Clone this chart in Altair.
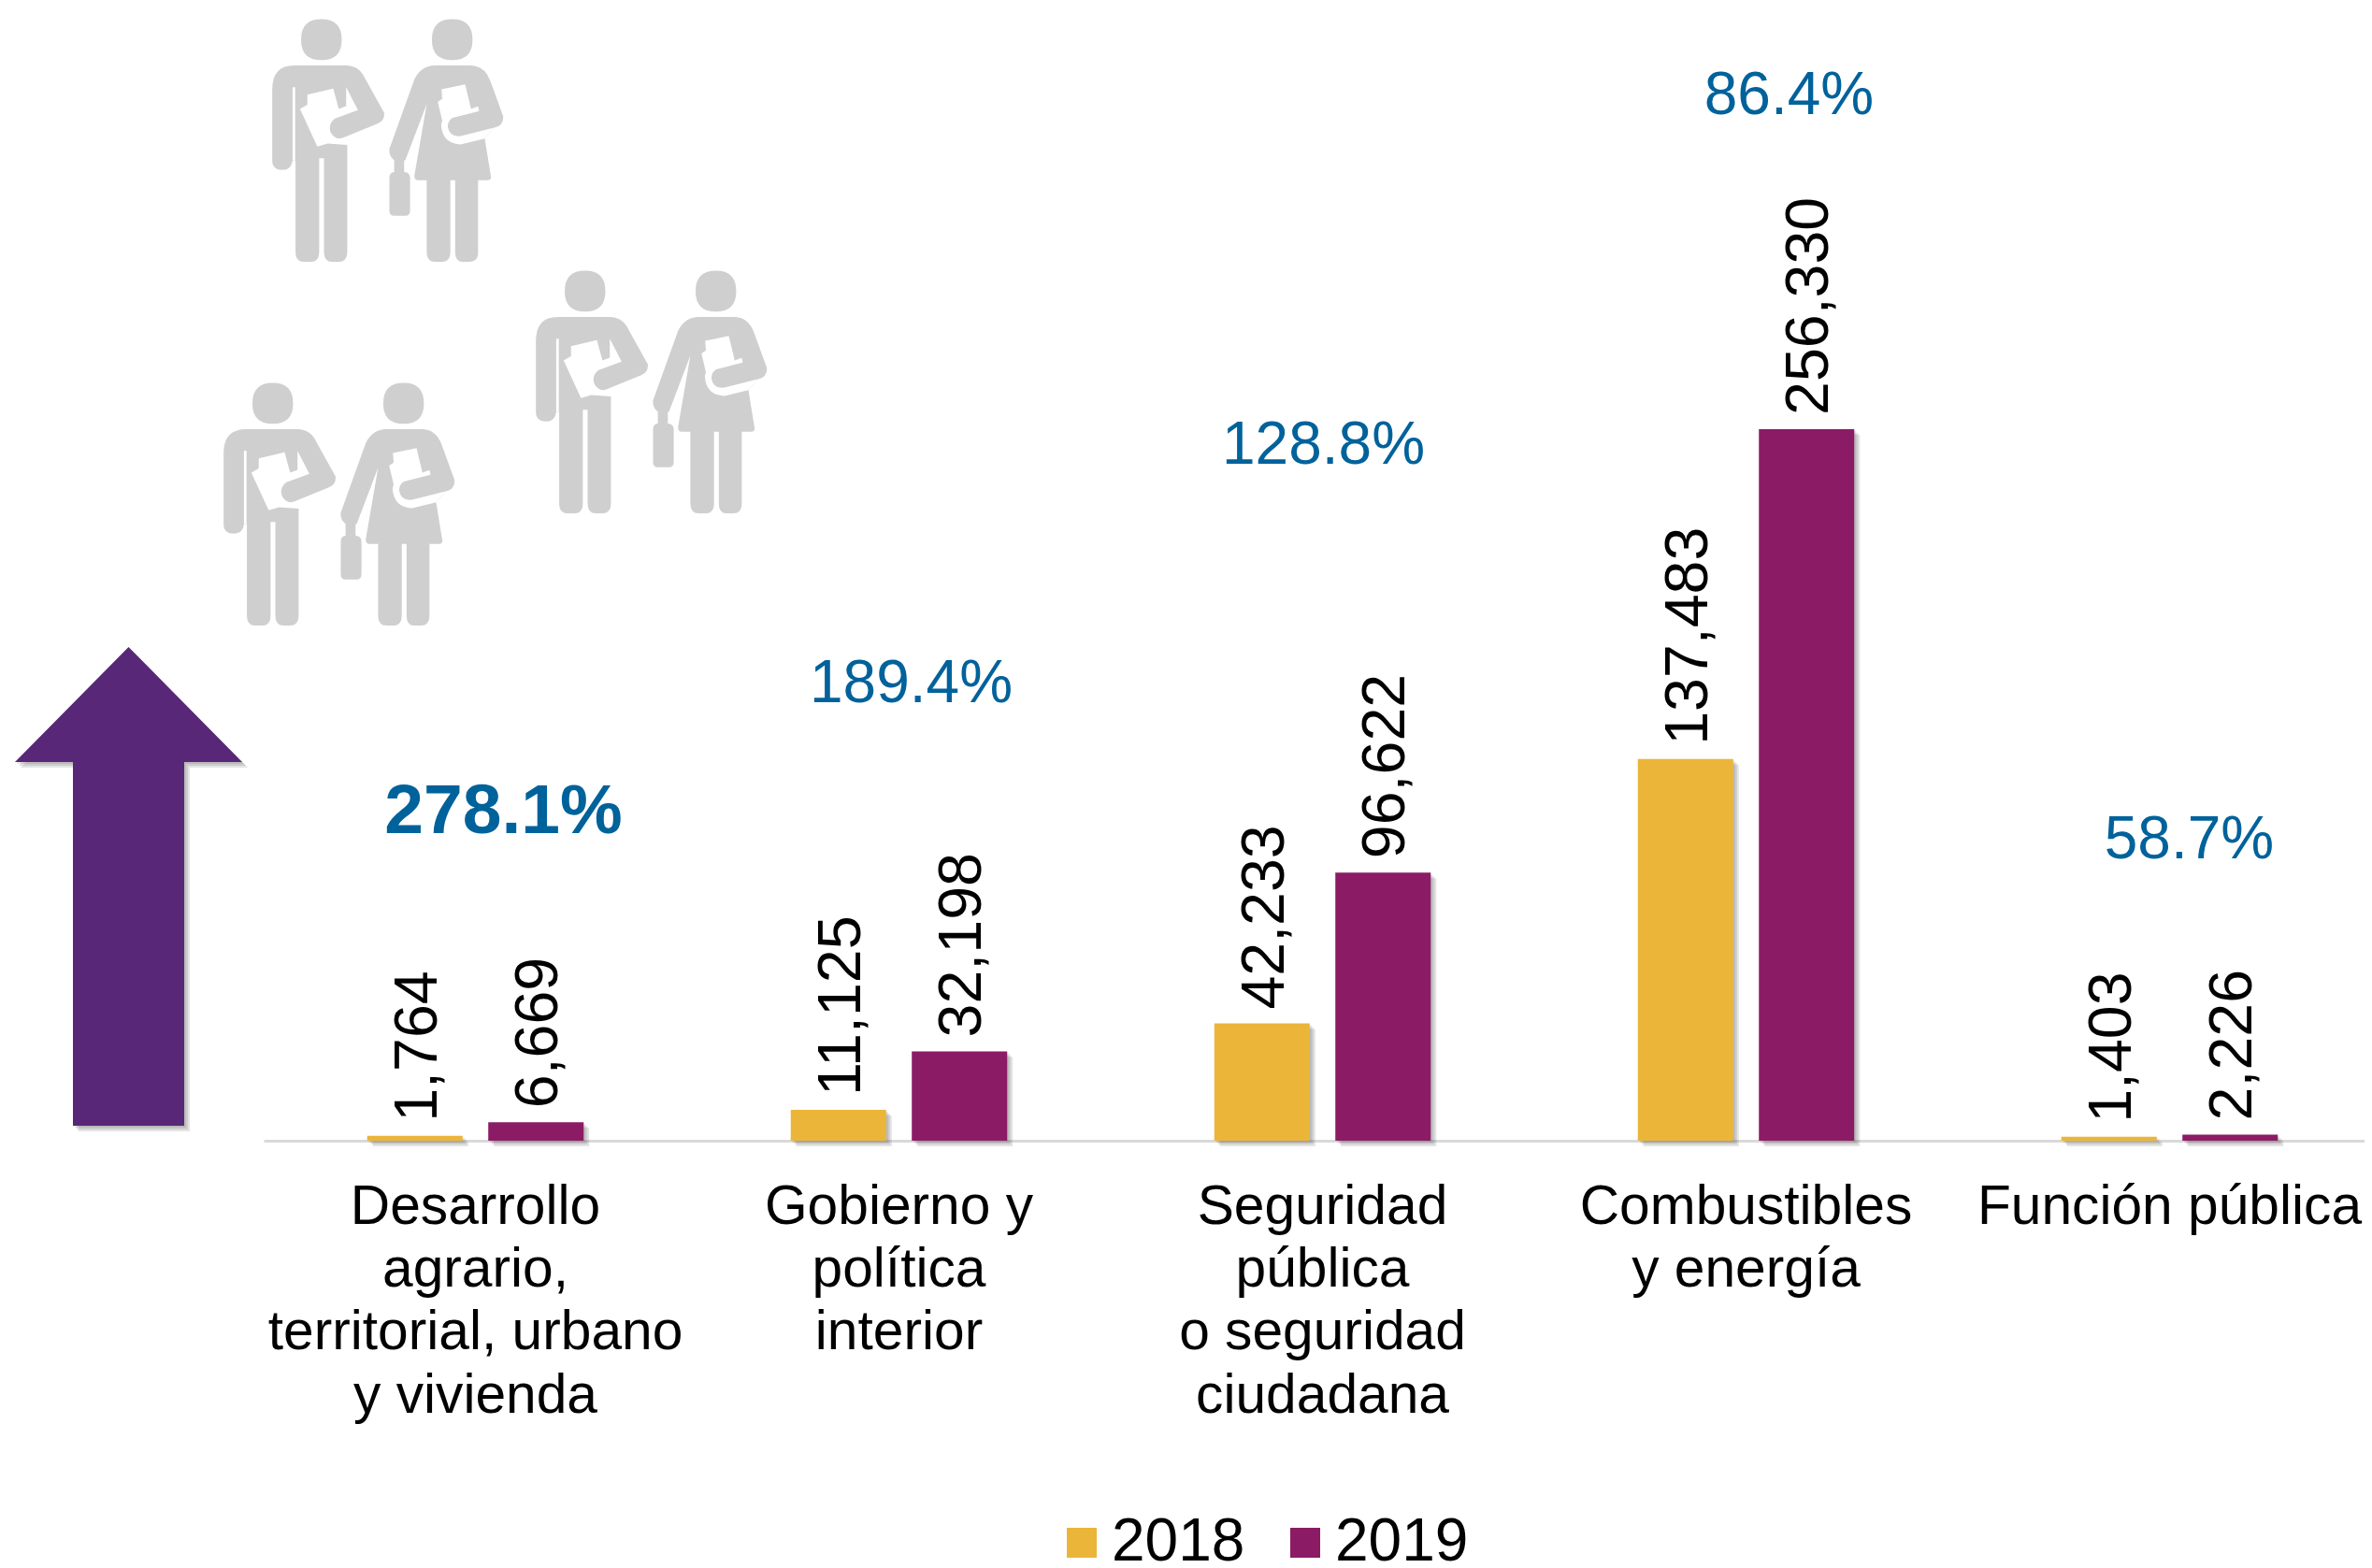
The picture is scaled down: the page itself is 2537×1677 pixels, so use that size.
import re
import altair as alt
import pandas as pd

categories = ["Desarrollo\nagrario,\nterritorial, urbano\ny vivienda", "Gobierno y\npolítica\ninterior",
              "Seguridad\npública\no seguridad\nciudadana", "Combustibles\ny energía", "Función pública"]
values_2018 = [1764, 11125, 42233, 137483, 1403]
values_2019 = [6669, 32198, 96622, 256330, 2226]
years = ["2018", "2019"]
percent_labels = ["278.1%", "189.4%", "128.8%", "86.4%", "58.7%"]
percent_bold = [True, False, False, False, False]
# annotation placement: height in data units, horizontal shift in px
percent_height = [118400, 164500, 250100, 376100, 108000]
percent_shift = [30, 13, 1, 46, 21]

GOLD, PLUM, VIOLET, BLUE, GREY = "#EBB53A", "#8C1B66", "#582778", "#00629B", "#CFCFCF"
FONT = "Liberation Sans"

rows = []
for c, a, b in zip(categories, values_2018, values_2019):
    rows.append({"cat": c, "year": years[0], "v": a})
    rows.append({"cat": c, "year": years[1], "v": b})
df = pd.DataFrame(rows)


def x_at(k=0, axis=None):
    return alt.X("cat:N", sort=categories, axis=axis,
                 scale=alt.Scale(domain=categories, range=[274 + k, 2539 + k],
                                 paddingInner=0.489, paddingOuter=0.2445))


def y_at(k=0):
    return alt.Y("v:Q", scale=alt.Scale(domain=[0, 408218], nice=False, range=[1212 + k, k]), axis=None)


x_axis = alt.Axis(title=None, ticks=False, labelAngle=0, labelFont=FONT, labelFontSize=58.7,
                  labelColor="#000000", labelPadding=42, labelLineHeight=67.4, labelLimit=0,
                  labelOverlap=False, domainColor="#D9D9D9", domainWidth=3, grid=False,
                  labelExpr="split(datum.label, '\\n')")
off_enc = alt.XOffset("year:N", scale=alt.Scale(domain=years, paddingInner=0.212, paddingOuter=0))

bars = alt.Chart(df).mark_bar(cornerRadius=0).encode(
    x=x_at(0, x_axis), xOffset=off_enc, y=y_at(),
    color=alt.Color("year:N", scale=alt.Scale(domain=years, range=[GOLD, PLUM]),
                    legend=alt.Legend(title=None, orient="none", legendX=1117, legendY=1610, direction="horizontal",
                                      columns=2, symbolType="square", symbolSize=1024, symbolStrokeWidth=0,
                                      labelFont=FONT, labelFontSize=64, labelColor="#000000", labelOffset=0,
                                      columnPadding=32, labelLimit=0)))
shadows = [alt.Chart(df).mark_bar(color="#555555", opacity=0.16).encode(
    x=x_at(k), xOffset=off_enc, y=y_at(k)) for k in (2, 4, 6)]
value_labels = [
    alt.Chart(df[df.year == yr]).mark_text(angle=270, align="left", baseline="middle", dx=15, dy=4, font=FONT,
                                           fontSize=64.5, color="#000000").encode(
        x=x_at(shift), y=y_at(), text=alt.Text("v:Q", format=","))
    for yr, shift in zip(years, (-64.75, 64.75))
]

pct_layers = []
for c, t, b, h, s in zip(categories, percent_labels, percent_bold, percent_height, percent_shift):
    pct_layers.append(alt.Chart(pd.DataFrame({"cat": [c], "v": [h], "t": [t]})).mark_text(
        font=FONT, fontSize=75 if b else 64, fontWeight="bold" if b else "normal", color=BLUE,
        align="center", baseline="middle", dx=s).encode(x=x_at(), y=y_at(), text="t:N"))


def norm(path, cx, cy, sx, sy, half):
    out, i = [], 0
    for tok in re.findall(r"[A-Za-z]|-?[\d.]+", path):
        if tok.isalpha():
            out.append(tok)
            i = 0
        else:
            v = float(tok)
            v = (v - cx) / sx / half if i % 2 == 0 else (v - cy) / sy / half
            out.append(f"{v:.4f}")
            i += 1
    return " ".join(out)


def ell(cx, cy, rx, ry):
    return (f"M {cx-rx} {cy} Q {cx-rx} {cy-ry} {cx} {cy-ry} Q {cx+rx} {cy-ry} {cx+rx} {cy} "
            f"Q {cx+rx} {cy+ry} {cx} {cy+ry} Q {cx-rx} {cy+ry} {cx-rx} {cy} Z ")


body = (ell(313, 96, 55, 49) + ell(667, 96, 55, 49) +
        "M 180 215 Q 180 158 240 158 L 380 158 Q 415 158 432 190 L 482 270 Q 485 290 465 297 L 383 325 L 383 605 "
        "Q 383 628 360 628 L 342 628 Q 320 628 320 605 L 320 380 L 307 380 L 307 605 Q 307 628 285 628 L 265 628 "
        "Q 243 628 243 605 L 243 385 L 235 385 Q 232 408 208 408 Q 180 408 180 385 Z "
        "M 497 358 L 565 190 Q 585 158 620 158 L 715 158 Q 755 158 770 195 L 805 280 Q 805 303 780 307 L 755 333 "
        "L 772 425 Q 772 433 762 433 L 737 433 L 737 605 Q 737 628 715 628 L 695 628 Q 675 628 675 605 L 675 433 "
        "L 662 433 L 662 605 Q 662 628 640 628 L 620 628 Q 598 628 598 605 L 598 433 L 575 433 Q 563 433 565 420 "
        "L 598 250 L 540 385 L 537 385 L 537 413 Q 553 413 553 428 L 553 505 Q 553 518 540 518 L 510 518 "
        "Q 497 518 497 505 L 497 428 Q 497 413 510 413 L 510 385 Q 495 375 497 358 Z")
cutouts = ("M 255 262 L 275 252 L 275 228 L 345 213 L 360 262 L 380 255 L 380 210 L 412 265 L 480 300 L 383 348 "
           "L 330 345 L 302 352 Z "
           "M 235 210 L 242 210 L 242 385 L 235 385 Z "
           "M 628 245 L 640 238 L 638 215 L 702 203 L 718 262 L 737 256 L 740 268 L 780 307 L 755 333 L 690 347 "
           "Q 640 345 637 300 L 640 290 Z")
forearms = ("M 350 285 L 412 265 L 482 270 Q 485 290 465 297 L 372 331 Q 350 338 338 318 Q 330 298 350 285 Z "
            "M 668 283 L 740 267 L 805 280 Q 805 303 780 307 L 690 327 Q 660 330 655 305 Q 655 290 668 283 Z")
ICON_CX, ICON_CY, ICON_SX, ICON_SY, ICON_HALF = 492, 337, 2.53, 2.24, 130
icon_centres = [(406.5, 142), (688.5, 411), (354.5, 531)]
one = pd.DataFrame({"a": [0]})


def shape_layer(path, x, y, half, color, opacity=1.0):
    return alt.Chart(one).mark_point(shape=path, size=(2 * half) ** 2, filled=True, fill=color, opacity=opacity,
                                     strokeWidth=0).encode(x=alt.value(x), y=alt.value(y))


icon_layers = []
for (ix, iy) in icon_centres:
    for p, col in ((body, GREY), (cutouts, "#FFFFFF"), (forearms, GREY)):
        icon_layers.append(shape_layer(norm(p, ICON_CX, ICON_CY, ICON_SX, ICON_SY, ICON_HALF), ix, iy, ICON_HALF, col))

arrow = "M 137.5 692 L 259 815 L 197 815 L 197 1204 L 78 1204 L 78 815 L 16 815 Z"
A_HALF = 256
arrow_path = norm(arrow, 137.5, 948, 1, 1, A_HALF)
arrow_layers = [shape_layer(arrow_path, 129.5 + k, 940 + k, A_HALF, "#555555", 0.16) for k in (2, 4, 6)]
arrow_layers.append(shape_layer(arrow_path, 129.5, 940, A_HALF, VIOLET))

chart = alt.layer(*icon_layers, *arrow_layers, *shadows, bars, *value_labels, *pct_layers).resolve_scale(
    x="independent", xOffset="independent", y="independent"
).properties(
    width=2521, height=1212, autosize="none",
    padding={"left": 0, "top": 0, "right": 0, "bottom": 457},
    background="#FFFFFF",
).configure_view(stroke=None)

chart.save("out.html", embed_options={"renderer": "svg", "actions": False})
